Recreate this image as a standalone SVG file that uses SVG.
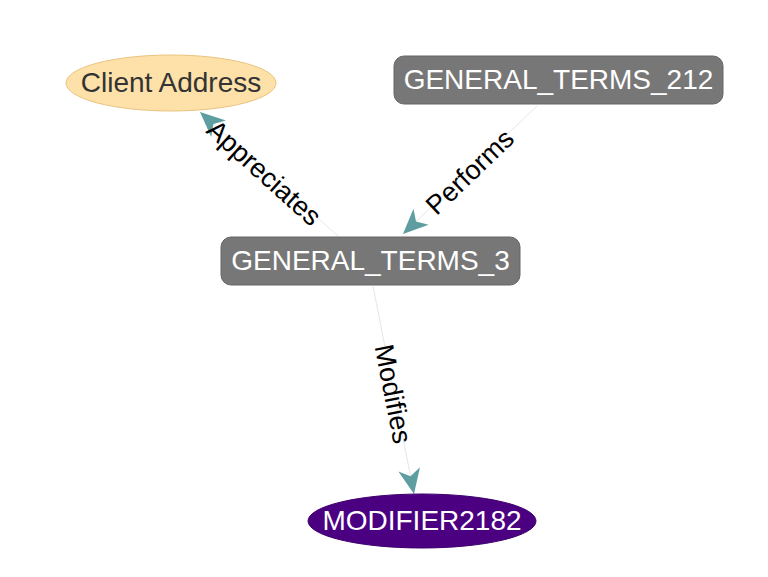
<svg xmlns="http://www.w3.org/2000/svg" width="768" height="577" viewBox="0 0 768 577">
<style>
.bg{fill:#ffffff}
.edge{stroke:#e6e6e6;stroke-width:1;fill:none}
.elabel{font-family:"Liberation Sans",Arial,sans-serif;font-size:27px;fill:#000000;text-anchor:middle;dominant-baseline:central}
.nlabel{font-family:"Liberation Sans",Arial,sans-serif;font-size:28px;text-anchor:middle;dominant-baseline:central}
.box{fill:#777777;stroke:#666666;stroke-width:1}
</style>
<defs>
<marker id="arr" markerUnits="userSpaceOnUse" markerWidth="32" markerHeight="32" viewBox="-28 -14 32 28" refX="0" refY="0" orient="auto">
<path d="M0,0 L-25,-11 L-18,0 L-25,11 Z" fill="#5f9ea0"/>
</marker>
</defs>
<rect class="bg" x="0" y="0" width="768" height="577"/>
<g id="connectors">
<line class="edge" x1="338" y1="236" x2="200" y2="112" marker-end="url(#arr)"/>
<text class="elabel" transform="translate(264,173) rotate(41.9)">Appreciates</text>
<line class="edge" x1="537" y1="106" x2="403" y2="234" marker-end="url(#arr)"/>
<text class="elabel" transform="translate(470,172) rotate(-43.7)">Performs</text>
<line class="edge" x1="373" y1="286" x2="414" y2="494" marker-end="url(#arr)"/>
<text class="elabel" transform="translate(393,394) rotate(78.8)">Modifies</text>
</g>
<g id="node-client-address">
<ellipse cx="171" cy="83" rx="105" ry="28" fill="#fde1a9" stroke="#e9c37e" stroke-width="1"/>
<text class="nlabel" x="171" y="82" fill="#333333">Client Address</text>
</g>
<g id="node-general-terms-212">
<rect class="box" x="394" y="56" width="329" height="48" rx="10"/>
<text class="nlabel" x="558.5" y="79" fill="#ffffff">GENERAL_TERMS_212</text>
</g>
<g id="node-general-terms-3">
<rect class="box" x="221" y="237" width="299" height="48" rx="10"/>
<text class="nlabel" x="370.5" y="260" fill="#ffffff">GENERAL_TERMS_3</text>
</g>
<g id="node-modifier2182">
<ellipse cx="422" cy="521" rx="114" ry="27" fill="#4b0082" stroke="#3d006b" stroke-width="1"/>
<text class="nlabel" x="422" y="520" fill="#ffffff">MODIFIER2182</text>
</g>
</svg>
